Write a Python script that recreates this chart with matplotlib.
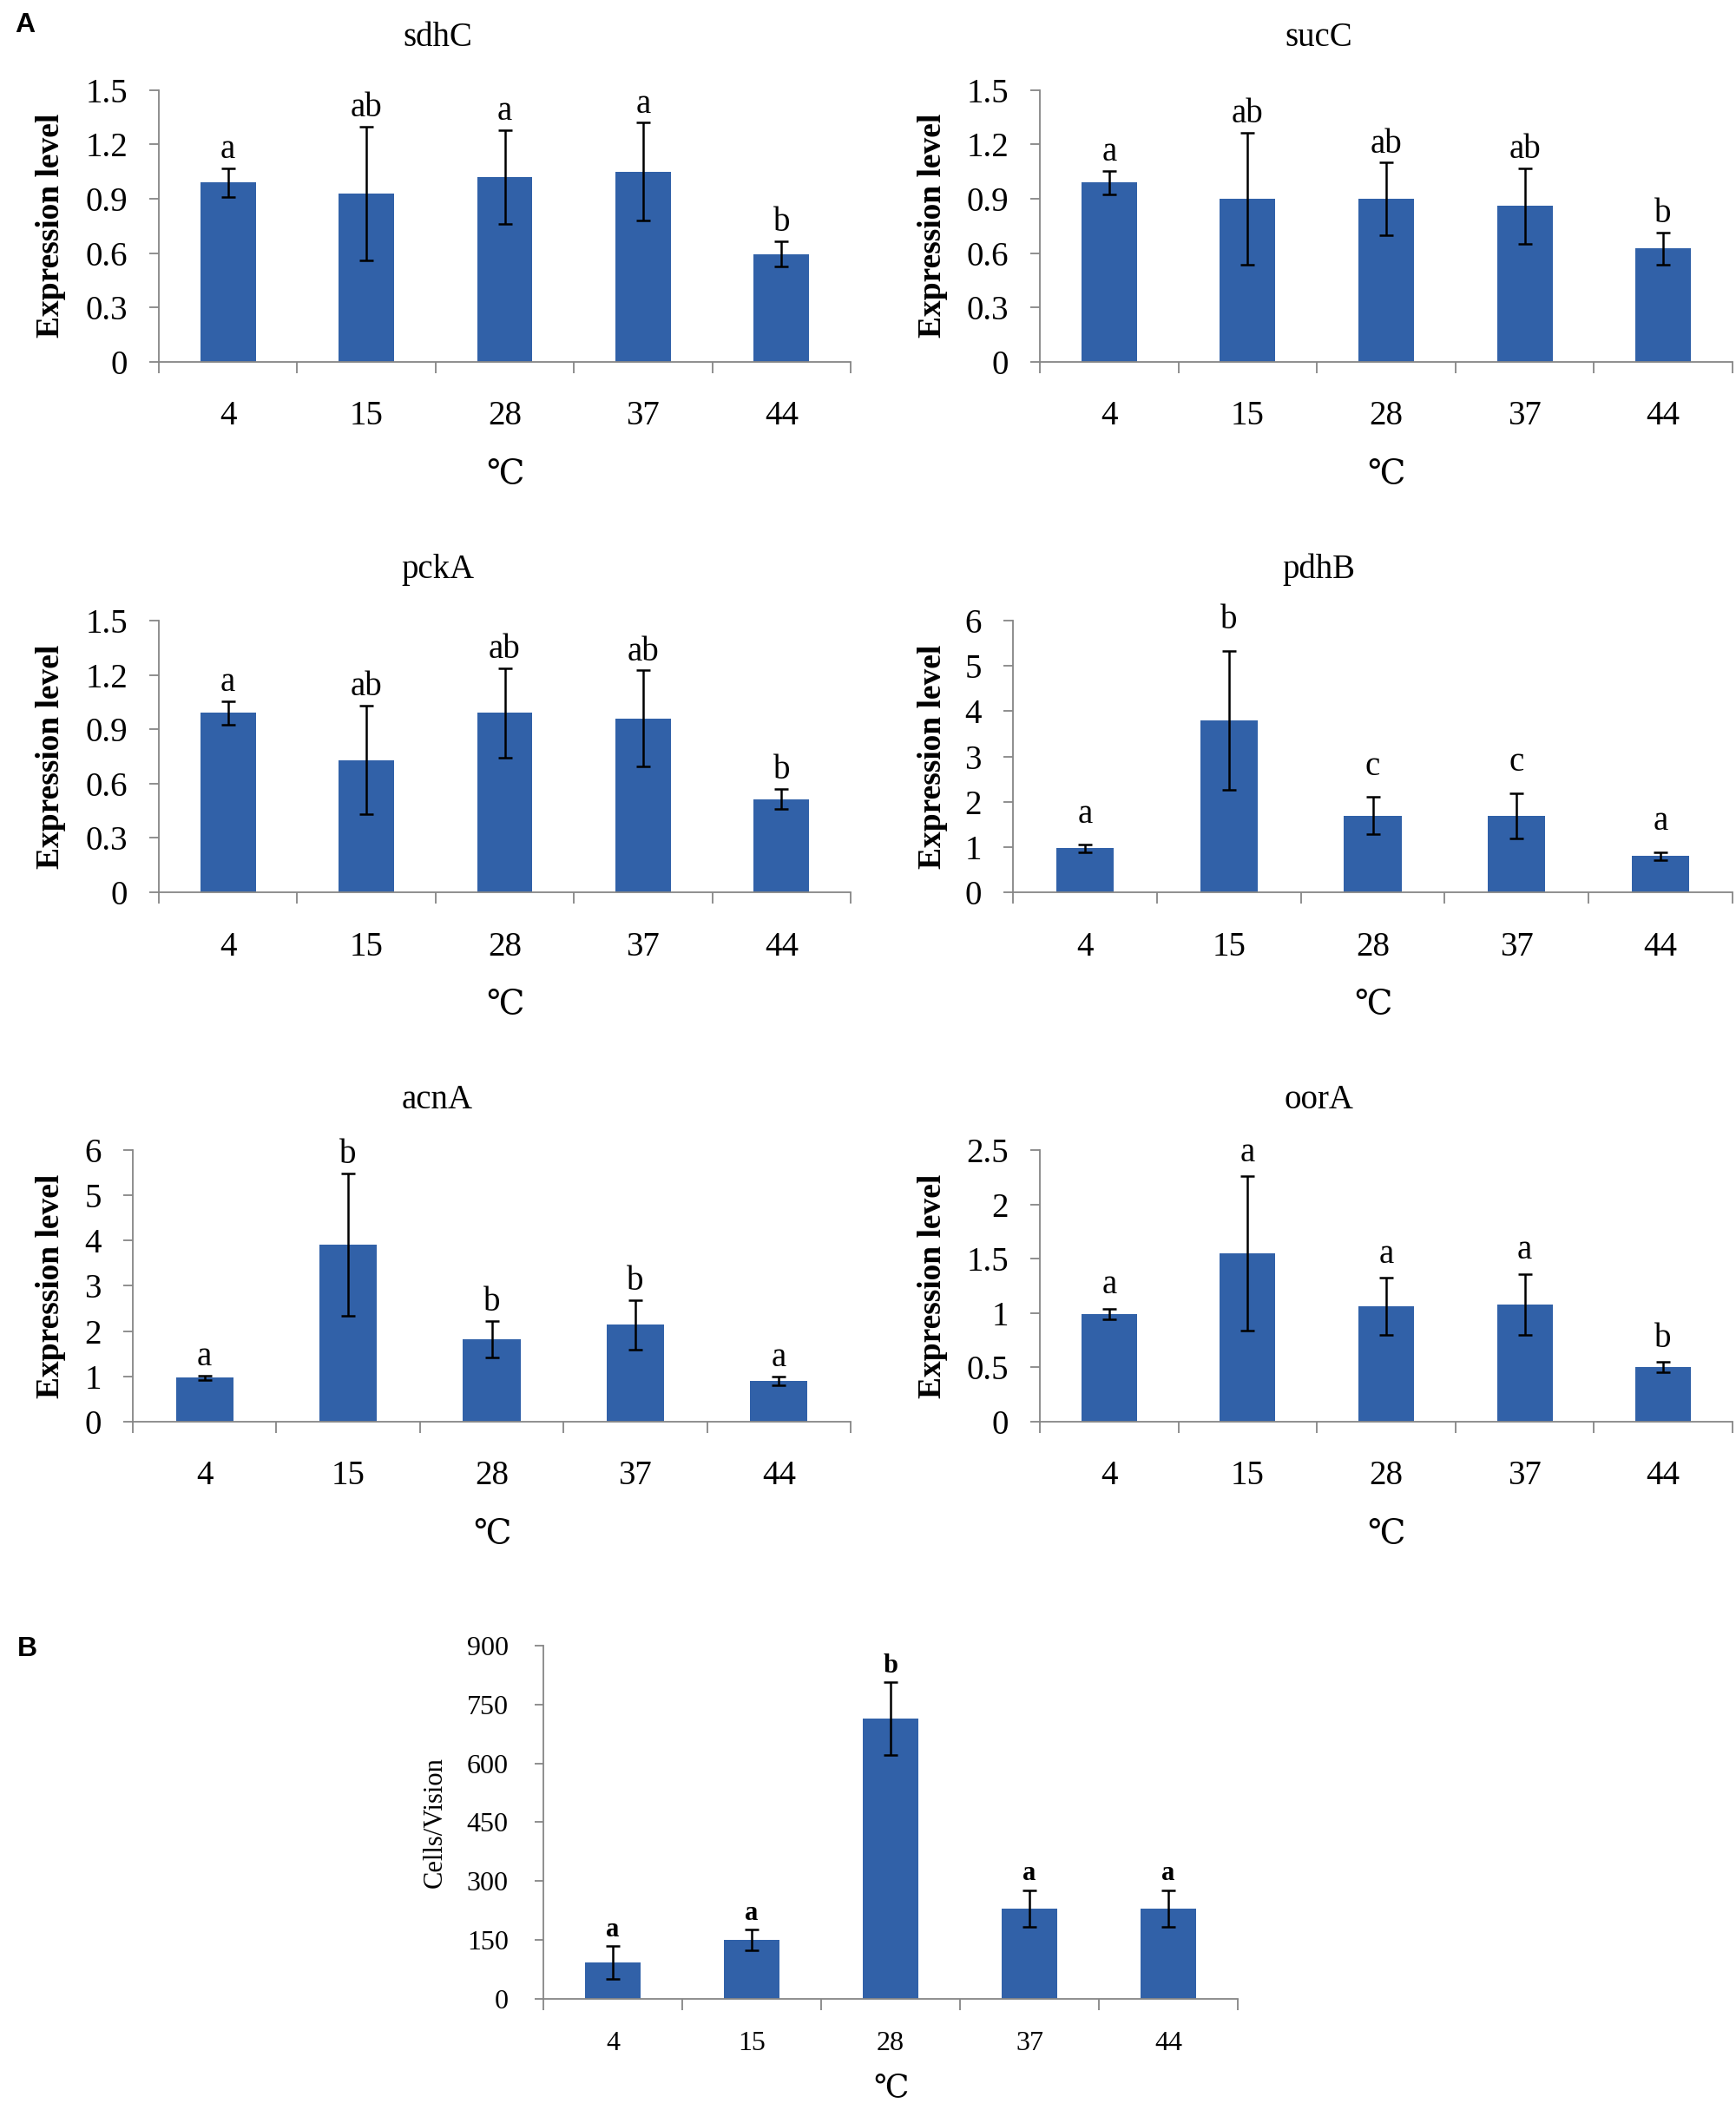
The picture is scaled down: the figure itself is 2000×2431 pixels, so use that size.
import matplotlib
matplotlib.use("Agg")
import matplotlib.pyplot as plt
from matplotlib.ticker import FuncFormatter

plt.rcParams['font.family'] = ['Liberation Serif', 'DejaVu Serif', 'Noto Sans CJK SC']

# 温度 (℃)
temps = ['4', '15', '28', '37', '44']

# A: relative expression level, mean / error / significance letters
sdhC_mean = [0.99, 0.93, 1.02, 1.05, 0.595]
sdhC_err = [0.08, 0.37, 0.26, 0.27, 0.07]
sdhC_sig = ['a', 'ab', 'a', 'a', 'b']

sucC_mean = [0.99, 0.90, 0.90, 0.86, 0.625]
sucC_err = [0.065, 0.365, 0.20, 0.21, 0.09]
sucC_sig = ['a', 'ab', 'ab', 'ab', 'b']

pckA_mean = [0.99, 0.73, 0.99, 0.96, 0.515]
pckA_err = [0.065, 0.30, 0.245, 0.265, 0.055]
pckA_sig = ['a', 'ab', 'ab', 'ab', 'b']

pdhB_mean = [0.97, 3.80, 1.69, 1.69, 0.80]
pdhB_err = [0.08, 1.53, 0.41, 0.50, 0.085]
pdhB_sig = ['a', 'b', 'c', 'c', 'a']

acnA_mean = [0.97, 3.91, 1.82, 2.14, 0.90]
acnA_err = [0.045, 1.58, 0.40, 0.55, 0.10]
acnA_sig = ['a', 'b', 'b', 'b', 'a']

oorA_mean = [0.99, 1.55, 1.06, 1.08, 0.505]
oorA_err = [0.05, 0.71, 0.265, 0.28, 0.046]
oorA_sig = ['a', 'a', 'a', 'a', 'b']

# B: cells per vision field
cells_mean = [93, 150, 714, 230, 230]
cells_err = [42, 26, 92, 47, 47]
cells_sig = ['a', 'a', 'b', 'a', 'a']

BAR = '#3161A8'
AXC = '#868686'

fig = plt.figure(figsize=(20, 24.31), dpi=100)


def style_axes(ax, n, tick_fs, xpad):
    for s in ['top', 'right']:
        ax.spines[s].set_visible(False)
    for s in ['left', 'bottom']:
        ax.spines[s].set_color(AXC)
        ax.spines[s].set_linewidth(1.3)
    ax.set_xlim(-0.5, n - 0.5)
    ax.set_xticks(range(n))
    ax.set_xticklabels(temps)
    ax.set_xticks([i - 0.5 for i in range(n + 1)], minor=True)
    ax.tick_params(axis='x', which='major', length=0, pad=xpad, labelsize=tick_fs)
    ax.tick_params(axis='x', which='minor', length=9, width=1.3, color=AXC, direction='out')
    ax.tick_params(axis='y', which='major', length=8, width=1.3, color=AXC,
                   direction='out', pad=18, labelsize=tick_fs)
    ax.yaxis.set_major_formatter(FuncFormatter(lambda v, p: '%g' % v))


def expr_panel(rect, title, title_xy, mean, err, sig, ymax, ystep, ylab_x, gap=2):
    ax = fig.add_axes(rect)
    x = range(len(temps))
    ax.bar(x, mean, width=0.4, color=BAR, zorder=2)
    ax.errorbar(x, mean, yerr=err, fmt='none', ecolor='black', elinewidth=1.8,
                capsize=5.5, capthick=1.8, zorder=3)
    ax.set_ylim(0, ymax)
    ax.set_yticks([ystep * k for k in range(int(round(ymax / ystep)) + 1)])
    style_axes(ax, len(temps), 28, 32)
    for i, (m, e, s) in enumerate(zip(mean, err, sig)):
        ax.annotate(s, xy=(i, m + e), xytext=(0, gap), textcoords='offset points',
                    ha='center', va='bottom', fontsize=28, annotation_clip=False)
    fig.text(title_xy[0], title_xy[1], title, ha='center', va='center', fontsize=28)
    fig.text(ylab_x, rect[1] + rect[3] / 2, 'Expression level', rotation=90,
             ha='center', va='center', fontsize=27, fontweight='bold')
    ax.annotate('℃', xy=(0.5, 0), xycoords='axes fraction', xytext=(0, -94),
                textcoords='offset points', ha='center', va='center', fontsize=28)
    return ax


expr_panel([0.0915, 0.8285, 0.3985, 0.1288], 'sdhC', (0.252, 0.982),
           sdhC_mean, sdhC_err, sdhC_sig, 1.5, 0.3, 0.0295)
expr_panel([0.599, 0.8285, 0.399, 0.1288], 'sucC', (0.7595, 0.982),
           sucC_mean, sucC_err, sucC_sig, 1.5, 0.3, 0.537)
expr_panel([0.0915, 0.5771, 0.3985, 0.1288], 'pckA', (0.252, 0.730),
           pckA_mean, pckA_err, pckA_sig, 1.5, 0.3, 0.0295)
expr_panel([0.5835, 0.5771, 0.4145, 0.1288], 'pdhB', (0.7595, 0.730),
           pdhB_mean, pdhB_err, pdhB_sig, 6, 1, 0.537, gap=12)
expr_panel([0.0765, 0.3262, 0.4135, 0.1288], 'acnA', (0.252, 0.4785),
           acnA_mean, acnA_err, acnA_sig, 6, 1, 0.0295)
expr_panel([0.599, 0.3262, 0.399, 0.1288], 'oorA', (0.7595, 0.4785),
           oorA_mean, oorA_err, oorA_sig, 2.5, 0.5, 0.537, gap=6)

# panel B
rectB = [0.313, 0.0527, 0.40, 0.1674]
axB = fig.add_axes(rectB)
xb = range(len(temps))
axB.bar(xb, cells_mean, width=0.4, color=BAR, zorder=2)
axB.errorbar(xb, cells_mean, yerr=cells_err, fmt='none', ecolor='black', elinewidth=1.8,
             capsize=5.5, capthick=1.8, zorder=3)
axB.set_ylim(0, 900)
axB.set_yticks(range(0, 901, 150))
style_axes(axB, len(temps), 23, 27)
axB.tick_params(axis='y', pad=22, length=7)
for i, (m, e, s) in enumerate(zip(cells_mean, cells_err, cells_sig)):
    axB.annotate(s, xy=(i, m + e), xytext=(0, 3), textcoords='offset points',
                 ha='center', va='bottom', fontsize=22, fontweight='bold')
fig.text(0.2505, rectB[1] + rectB[3] / 2, 'Cells/Vision', rotation=90,
         ha='center', va='center', fontsize=22)
axB.annotate('℃', xy=(0.5, 0), xycoords='axes fraction', xytext=(0, -75),
             textcoords='offset points', ha='center', va='center', fontsize=26)

fig.text(0.0143, 0.9879, 'A', fontsize=23, fontweight='bold', family='Liberation Sans',
         ha='center', va='center')
fig.text(0.0158, 0.2184, 'B', fontsize=23, fontweight='bold', family='Liberation Sans',
         ha='center', va='center')

fig.savefig('out.png', dpi=100)
